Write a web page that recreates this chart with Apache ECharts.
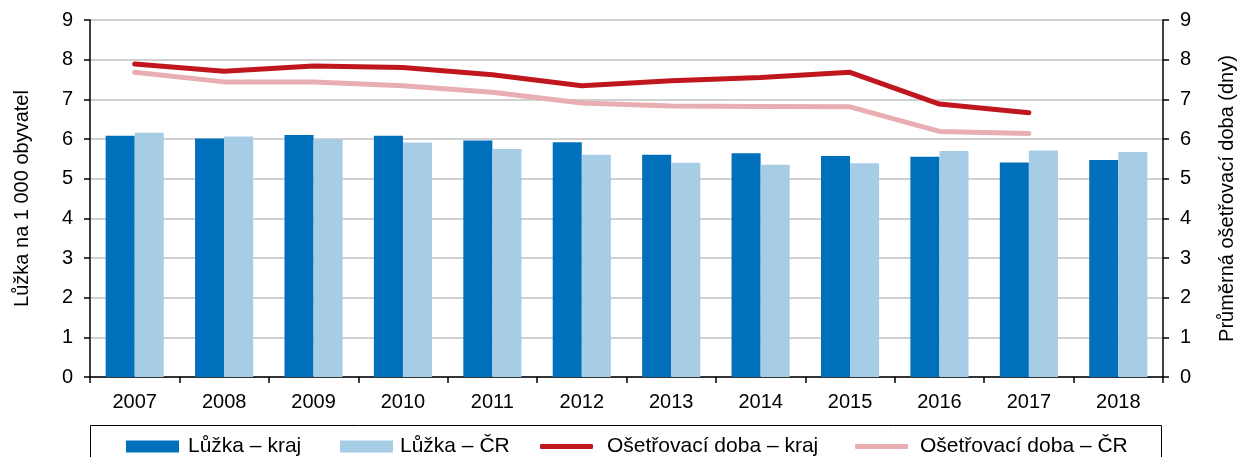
<!DOCTYPE html>
<html>
<head>
<meta charset="utf-8">
<script src="https://cdn.jsdelivr.net/npm/echarts@6/dist/echarts.min.js"></script>
</head>
<body style="margin: 0; padding: 0; background: #fff;">
<div id="chart" style="width: 1239px; height: 457px;"></div>
<script>
// data
const years = ['2007', '2008', '2009', '2010', '2011', '2012', '2013', '2014', '2015', '2016', '2017', '2018']
const bedsRegion = [6.08, 6.01, 6.10, 6.08, 5.96, 5.92, 5.60, 5.64, 5.57, 5.55, 5.41, 5.47]
const bedsCR = [6.16, 6.06, 6.00, 5.91, 5.75, 5.60, 5.40, 5.35, 5.39, 5.70, 5.71, 5.67]
const stayRegion = [7.89, 7.71, 7.84, 7.80, 7.62, 7.34, 7.47, 7.55, 7.68, 6.88, 6.66, null]
const stayCR = [7.68, 7.44, 7.44, 7.34, 7.18, 6.91, 6.83, 6.82, 6.81, 6.19, 6.14, null]

const font = 'Liberation Sans'
const txt = { fontFamily: font, fontSize: 20, color: '#000' }

const yAxisBase = {
  type: 'value',
  min: 0,
  max: 9,
  interval: 1,
  nameLocation: 'middle',
  nameTextStyle: txt,
  axisLine: { show: true, lineStyle: { color: '#000', width: 1.5 } },
  axisTick: { show: true, length: 6, lineStyle: { color: '#000', width: 1.5 } },
  axisLabel: Object.assign({ margin: 17 }, txt)
}

// one legend per entry so each sits where it does in the reference
function legendAt(name, left, h, icon, gap) {
  return {
    data: [name],
    left: left,
    top: 431,
    itemWidth: 53,
    itemHeight: h,
    icon: icon,
    textStyle: { fontFamily: font, fontSize: 21, color: '#000', padding: [0, 0, 0, gap] }
  }
}

const chart = echarts.init(document.getElementById('chart'))
chart.setOption({
  animation: false,
  textStyle: { fontFamily: font },
  grid: { left: 90, right: 76, top: 20, bottom: 80, outerBoundsMode: 'none', containLabel: false },
  graphic: [{
    type: 'rect',
    shape: { x: 90.5, y: 425.5, width: 1071, height: 40 },
    style: { fill: 'none', stroke: '#000', lineWidth: 1 }
  }],
  legend: [
    legendAt('Lůžka – kraj', 121, 12, 'rect', 4),
    legendAt('Lůžka – ČR', 335, 12, 'rect', 2),
    legendAt('Ošetřovací doba – kraj', 535, 5, 'roundRect', 9),
    legendAt('Ošetřovací doba – ČR', 850, 5, 'roundRect', 7)
  ],
  xAxis: {
    type: 'category',
    data: years,
    axisLine: { lineStyle: { color: '#000', width: 1.5 } },
    axisTick: { show: true, length: 6, lineStyle: { color: '#000', width: 1.5 } },
    axisLabel: Object.assign({ margin: 15 }, txt)
  },
  yAxis: [
    Object.assign({}, yAxisBase, {
      name: 'Lůžka na 1 000 obyvatel',
      nameGap: 58,
      splitLine: { show: true, lineStyle: { color: '#c0c0c0', width: 1.5 } }
    }),
    Object.assign({}, yAxisBase, {
      name: 'Průměrná ošetřovací doba (dny)',
      nameGap: 54,
      splitLine: { show: false }
    })
  ],
  series: [
    {
      name: 'Lůžka – kraj',
      type: 'bar',
      data: bedsRegion,
      barGap: '0%',
      barCategoryGap: '35%',
      itemStyle: { color: '#0070bd' }
    },
    {
      name: 'Lůžka – ČR',
      type: 'bar',
      data: bedsCR,
      itemStyle: { color: '#a7cce6' }
    },
    {
      name: 'Ošetřovací doba – kraj',
      type: 'line',
      yAxisIndex: 1,
      data: stayRegion,
      showSymbol: false,
      symbol: 'none',
      itemStyle: { color: '#c0171f' },
      lineStyle: { color: '#c0171f', width: 5, cap: 'round', join: 'round' }
    },
    {
      name: 'Ošetřovací doba – ČR',
      type: 'line',
      yAxisIndex: 1,
      data: stayCR,
      showSymbol: false,
      symbol: 'none',
      itemStyle: { color: '#e8aeb1' },
      lineStyle: { color: '#e8aeb1', width: 5, cap: 'round', join: 'round' }
    }
  ]
})
</script>
</body>
</html>
